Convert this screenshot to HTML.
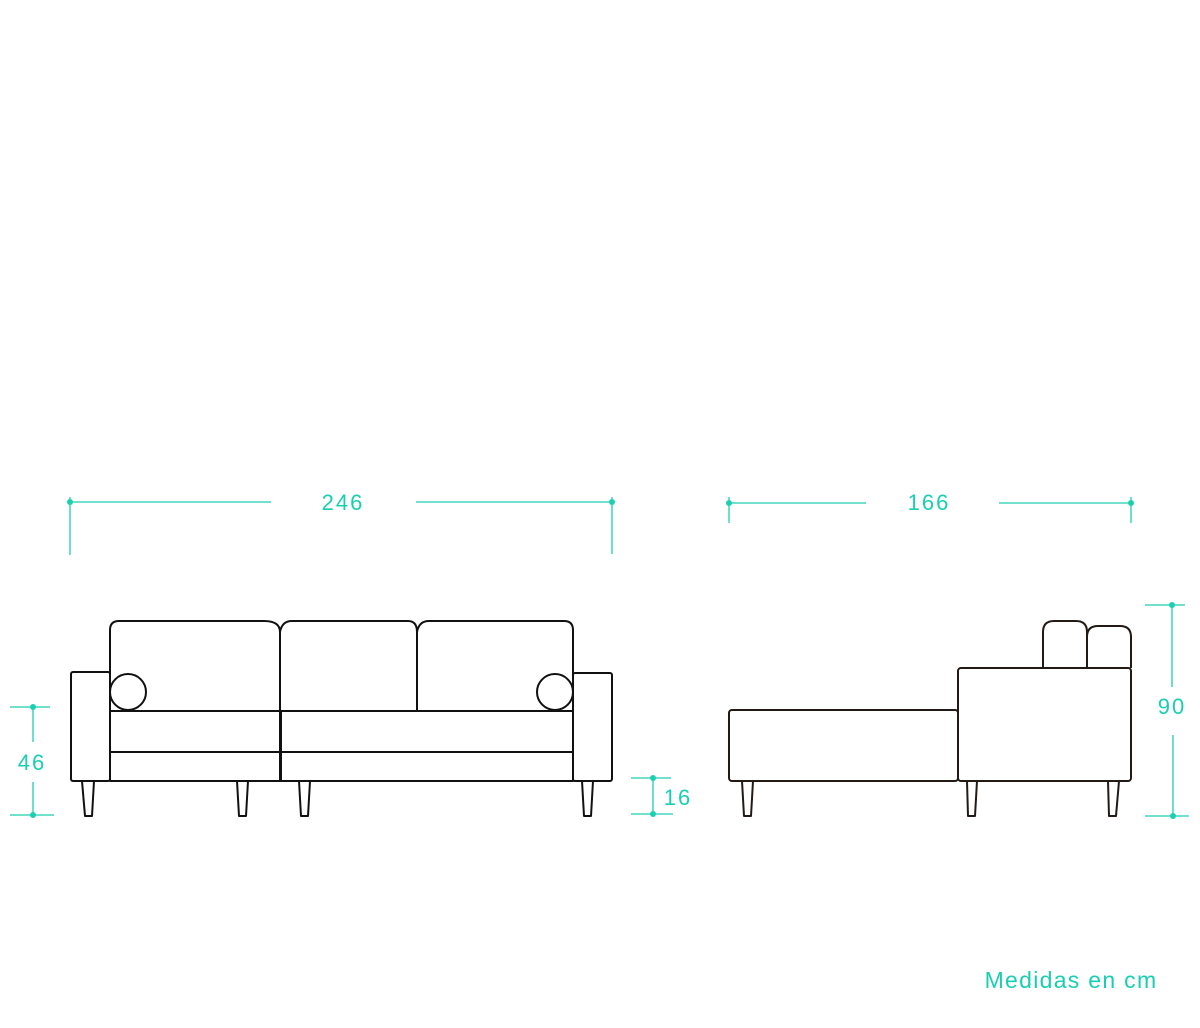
<!DOCTYPE html>
<html><head><meta charset="utf-8"><style>
html,body{margin:0;padding:0;background:#fff;width:1200px;height:1028px;overflow:hidden}
svg{display:block}
text{font-family:"Liberation Sans",sans-serif;fill:#19cfb1}
</style></head><body>
<svg width="1200" height="1028" viewBox="0 0 1200 1028" xmlns="http://www.w3.org/2000/svg">
<g stroke="#1ccfb0" stroke-width="1.3" fill="none">
  <line x1="70" y1="502" x2="271" y2="502"/>
  <line x1="416" y1="502" x2="612" y2="502"/>
  <line x1="70" y1="497" x2="70" y2="555"/>
  <line x1="612" y1="497" x2="612" y2="554"/>
  <line x1="729" y1="503" x2="866" y2="503"/>
  <line x1="999" y1="503" x2="1131" y2="503"/>
  <line x1="729" y1="497" x2="729" y2="523"/>
  <line x1="1131" y1="497" x2="1131" y2="523"/>
  <line x1="10" y1="707" x2="50" y2="707"/>
  <line x1="33" y1="707" x2="33" y2="742"/>
  <line x1="33" y1="782" x2="33" y2="815"/>
  <line x1="10" y1="815" x2="54" y2="815"/>
  <line x1="631" y1="778" x2="671" y2="778"/>
  <line x1="631" y1="814" x2="673" y2="814"/>
  <line x1="653" y1="778" x2="653" y2="814"/>
  <line x1="1145" y1="605" x2="1185" y2="605"/>
  <line x1="1172" y1="605" x2="1172" y2="687"/>
  <line x1="1173" y1="735" x2="1173" y2="816"/>
  <line x1="1145" y1="816" x2="1189" y2="816"/>
</g>
<g fill="#1ccfb0">
  <circle cx="70" cy="502" r="3"/><circle cx="612" cy="502" r="3"/>
  <circle cx="729" cy="503" r="3"/><circle cx="1131" cy="503" r="3"/>
  <circle cx="33" cy="707" r="3"/><circle cx="33" cy="815" r="3"/>
  <circle cx="653" cy="778" r="3"/><circle cx="653" cy="814" r="3"/>
  <circle cx="1172" cy="605" r="3"/><circle cx="1173" cy="816" r="3"/>
</g>
<g font-size="22" text-anchor="middle" letter-spacing="2">
  <text x="343" y="510">246</text>
  <text x="929" y="510">166</text>
  <text x="32" y="770">46</text>
  <text x="678" y="805">16</text>
  <text x="1172" y="714">90</text>
</g>
<text x="1071" y="988" font-size="23" text-anchor="middle" letter-spacing="1.3">Medidas en cm</text>
<g stroke="#111" stroke-width="2" fill="none" stroke-linejoin="round">
  <rect x="71" y="672" width="39" height="109" rx="2"/>
  <rect x="573" y="673" width="39" height="108" rx="2"/>
  <path d="M110 711 V630 Q110 621 119 621 H264 Q280 621 280 632 Q282 621 292 621 H408 Q417 621 417 632 Q419 621 429 621 H564 Q573 621 573 630 V711"/>
  <line x1="280" y1="632" x2="280" y2="711"/>
  <line x1="417" y1="632" x2="417" y2="711"/>
  <circle cx="128" cy="692" r="18"/>
  <circle cx="555" cy="692" r="18"/>
  <rect x="110" y="711" width="170" height="41"/>
  <rect x="281" y="711" width="292" height="41"/>
  <rect x="110" y="752" width="170" height="29"/>
  <rect x="281" y="752" width="292" height="29"/>
  <path d="M82 781 L85 816 H92 L94 781"/>
  <path d="M237 781 L239 816 H246 L248 781"/>
  <path d="M299 781 L301 816 H308 L310 781"/>
  <path d="M582 781 L584 816 H591 L593 781"/>
  <rect x="729" y="710" width="229" height="71" rx="3" stroke="#231a15"/>
  <rect x="958" y="668" width="173" height="113" rx="3" stroke="#231a15"/>
  <path d="M1043 668 V632 Q1043 621 1054 621 H1076 Q1087 621 1087 632 V668" stroke="#231a15"/>
  <path d="M1087 668 V637 Q1087 626 1098 626 H1120 Q1131 626 1131 637 V668" stroke="#231a15"/>
  <path d="M742 781 L744 816 H751 L753 781" stroke="#231a15"/>
  <path d="M967 781 L968 816 H975 L977 781" stroke="#231a15"/>
  <path d="M1108 781 L1109 816 H1116 L1119 781" stroke="#231a15"/>
</g>
</svg>
</body></html>
